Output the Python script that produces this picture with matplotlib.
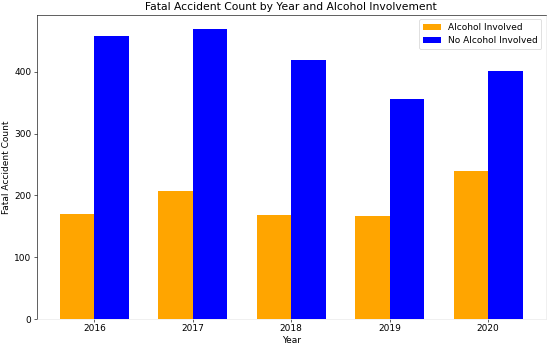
import matplotlib
matplotlib.use('Agg')
import matplotlib.pyplot as plt
import numpy as np

years = ['2016', '2017', '2018', '2019', '2020']
alcohol = [170, 208, 169, 167, 240]
no_alcohol = [459, 469, 419, 357, 401]

plt.rcParams['font.size'] = 11.8

dpi = 54.8
fig = plt.figure(figsize=(548 / dpi, 346 / dpi), dpi=dpi)
ax = fig.add_axes([0.067, 0.078, 0.929, 0.879])

x = np.arange(len(years))
width = 0.35
ax.bar(x - width / 2, alcohol, width, color='orange', label='Alcohol Involved')
ax.bar(x + width / 2, no_alcohol, width, color='blue', label='No Alcohol Involved')

ax.set_xticks(x)
ax.set_xticklabels(years)
ax.set_xlabel('Year')
ax.set_ylabel('Fatal Accident Count')
ax.set_title('Fatal Accident Count by Year and Alcohol Involvement')
ax.legend(loc='upper right')

ax.spines['right'].set_color('#e8e8e8')
ax.spines['bottom'].set_color('#e8e8e8')

fig.savefig('out.png', dpi=dpi)
